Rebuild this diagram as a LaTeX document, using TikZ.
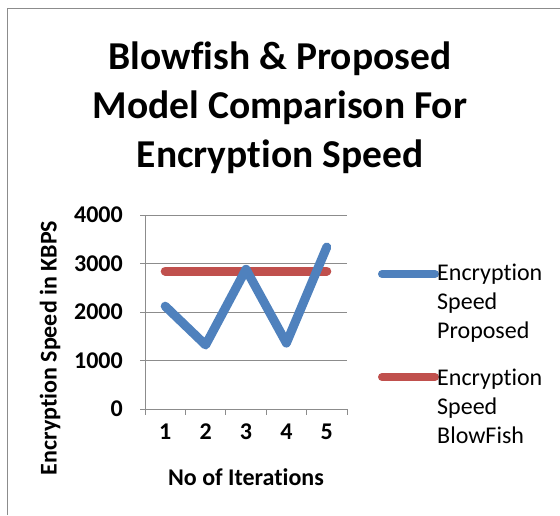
\documentclass[tikz,border=0pt]{standalone}
\usepackage{fontspec}
\setmainfont{Carlito}[Ligatures=NoCommon]
\usetikzlibrary{positioning}

\definecolor{serblue}{HTML}{4F81BD}
\definecolor{serred}{HTML}{C0504D}
\definecolor{gridgray}{HTML}{8C8C8C}

\begin{document}
\begin{tikzpicture}[x=1pt, y=1pt,
        gridline/.style={draw=gridgray, line width=1pt},
        ticklab/.style={font=\fontsize{24}{28}\selectfont\bfseries, inner sep=0pt},
        axlab/.style={font=\fontsize{24}{28}\selectfont\bfseries, inner sep=0pt},
        legtext/.style={font=\fontsize{24}{29}\selectfont, align=left, anchor=west, inner sep=0pt},
        series/.style={line width=9pt, line join=round, line cap=round},
        blueser/.style={series, draw=serblue},
        redser/.style={series, draw=serred},
    ]
        \useasboundingbox (0,0) rectangle (560,515);
        \draw[gridgray, line width=1pt] (7,0) -- (7,506) -- (560,506);

        \node[font=\fontsize{39.5}{49}\selectfont\bfseries, align=center] (title) at (280,407)
            {Blowfish \& Proposed\\Model Comparison For\\Encryption Speed};

        \begin{scope}[shift={(145,106)}, x=40.4pt, y=0.0485pt]
            % grid and value axis
            \foreach \v in {0,1000,...,4000} {
                \draw[gridline] ([xshift=-5pt]0,\v) -- (5,\v);
                \node[ticklab, anchor=east] (yt\v) at ([xshift=-22pt]0,\v) {\v};
            }
            \draw[gridline] (0,0) -- (0,4000);
            % category axis
            \foreach \i in {0,...,5}
                \draw[gridline] (\i,0) -- ([yshift=-6pt]\i,0);
            \foreach \i in {1,...,5}
                \node[ticklab] (xt\i) at ([yshift=-23pt]\i-0.5,0) {\i};

            \draw[redser]  (0.5,2845) -- (4.5,2845);
            \draw[blueser] (0.5,2120) -- (1.5,1320) -- (2.5,2880) -- (3.5,1360) -- (4.5,3340);
        \end{scope}

        \node[axlab] (xlab) at (246,38) {No of Iterations};
        \node[axlab, rotate=90] (ylab) at (50,167) {Encryption Speed in KBPS};

        % legend
        \coordinate (lpa) at (382,241);
        \coordinate (lpb) at (435,241);
        \coordinate (lba) at (382,138);
        \coordinate (lbb) at (435,138);
        \draw[series, line width=8pt, draw=serblue] (lpa) -- (lpb);
        \draw[series, line width=8pt, draw=serred]  (lba) -- (lbb);
        \node[legtext] (legprop) at (437,212) {Encryption\\Speed\\Proposed};
        \node[legtext] (legblow) at (437,109) {Encryption\\Speed\\BlowFish};
    \end{tikzpicture}
\end{document}
